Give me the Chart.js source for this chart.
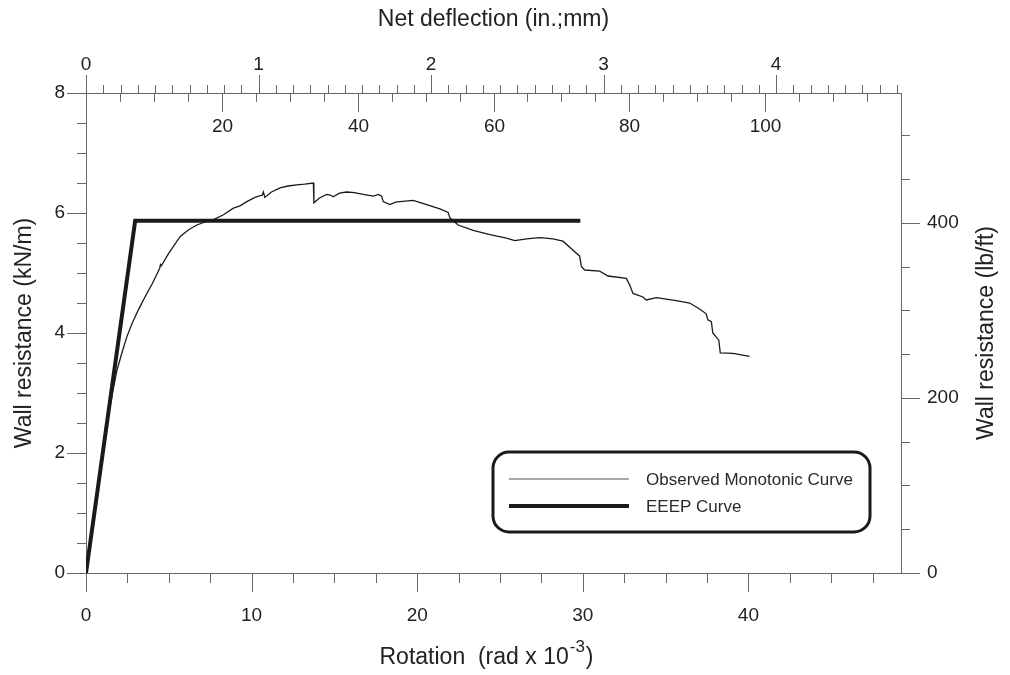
<!DOCTYPE html>
<html>
<head>
<meta charset="utf-8">
<script src="https://cdn.jsdelivr.net/npm/chart.js@4.4.0/dist/chart.umd.min.js"></script>
<style>
  html, body { margin: 0; padding: 0; background: #fff; }
  canvas { display: block; }
</style>
</head>
<body>
<canvas id="grafico" width="1010" height="675"></canvas>
<script>
// --- DADOS ---
// curva monotônica observada: rotação (rad x 10^-3) e resistência (kN/m)
const rotacaoObservada = [
  0, 0.3, 0.6, 0.9, 1.3, 1.6, 1.87, 2.2, 2.47, 2.8, 3.17, 3.6, 4.0, 4.45, 4.5, 4.55,
  5.0, 5.69, 6.2, 6.69, 7.2, 7.7, 8.3, 8.9, 9.3, 9.71, 10.2, 10.65, 10.71, 10.8, 11.2,
  11.72, 12.2, 12.73, 13.2, 13.73, 13.76, 14.1, 14.54, 14.75, 14.93, 15.3, 15.74, 16.2,
  16.74, 17.35, 17.65, 17.85, 17.95, 18.35, 18.7, 18.96, 19.76, 20.57, 21.37, 21.87,
  21.97, 22.47, 23.38, 24.39, 25.39, 25.89, 26.6, 27.4, 28.2, 28.8, 29.41, 29.81, 29.91,
  30.11, 31.02, 31.52, 32.63, 32.83, 33.03, 33.63, 33.83, 34.44, 35.64, 36.45, 37.05,
  37.45, 37.55, 37.76, 37.85, 38.21, 38.3, 39.06, 40.07
];
const resistenciaObservada = [
  0, 0.62, 1.2, 1.8, 2.55, 3.0, 3.38, 3.7, 3.94, 4.17, 4.39, 4.62, 4.82, 5.08, 5.14, 5.12,
  5.33, 5.61, 5.72, 5.80, 5.85, 5.89, 5.97, 6.08, 6.12, 6.19, 6.26, 6.30, 6.35, 6.26, 6.35,
  6.42, 6.45, 6.47, 6.48, 6.50, 6.17, 6.25, 6.31, 6.30, 6.27, 6.33, 6.35, 6.34,
  6.31, 6.28, 6.31, 6.28, 6.19, 6.14, 6.18, 6.19, 6.21, 6.14, 6.07, 6.01,
  5.92, 5.80, 5.71, 5.64, 5.58, 5.54, 5.57, 5.59, 5.57, 5.53, 5.38, 5.28, 5.11,
  5.05, 5.03, 4.95, 4.91, 4.80, 4.66, 4.60, 4.55, 4.59, 4.54, 4.50, 4.40,
  4.32, 4.22, 4.19, 4.00, 3.88, 3.67, 3.66, 3.61
];

// curva EEEP (bilinear)
const rotacaoEEEP = [0, 2.97, 29.85];
const resistenciaEEEP = [0, 5.87, 5.87];

// rótulos
const TITULO_TOPO = 'Net deflection (in.;mm)';
const TITULO_ESQ = 'Wall resistance (kN/m)';
const TITULO_DIR = 'Wall resistance (lb/ft)';
const TITULO_BASE = ['Rotation  (rad x 10', '-3', ')'];
const NOMES_SERIES = ['Observed Monotonic Curve', 'EEEP Curve'];

// conversões de unidade
const ALTURA_PAREDE_POL = 96;          // 8 ft
const MM_POR_POL = 25.4;
const KN_M_POR_LB_FT = 0.0145939;
const DEFLEXAO_MAX_MM = 120;
const Y_MAX = 8;
const X_MAX = DEFLEXAO_MAX_MM / MM_POR_POL / ALTURA_PAREDE_POL * 1000;

const corTexto = '#222';
const corEixo = '#666';
const FONTE = "'Liberation Sans', Arial, sans-serif";

const pontos = (xs, ys) => xs.map((x, i) => ({ x: x, y: ys[i] }));

// --- MARCAS DOS EIXOS, RÓTULOS EM MM, TÍTULOS E LEGENDA ---
const pluginDesenho = {
  id: 'desenhoExtra',
  afterDraw(chart) {
    const { ctx, chartArea: a, scales } = chart;
    ctx.save();
    ctx.strokeStyle = corEixo;
    ctx.lineWidth = 1;
    const linha = (x1, y1, x2, y2) => {
      ctx.beginPath(); ctx.moveTo(x1, y1); ctx.lineTo(x2, y2); ctx.stroke();
    };
    const arred = v => Math.round(v) + 0.5;

    // eixo inferior: rotação, a cada 2.5
    for (let v = 0; v <= X_MAX; v += 2.5) {
      const px = arred(scales.x.getPixelForValue(v));
      linha(px, a.bottom, px, a.bottom + (v % 10 === 0 ? 19 : 10));
    }
    // eixo esquerdo: kN/m, a cada 0.5
    for (let v = 0; v <= Y_MAX; v += 0.5) {
      const py = arred(scales.y.getPixelForValue(v));
      linha(a.left, py, a.left - (v % 2 === 0 ? 19 : 9), py);
    }
    // eixo direito: lb/ft, a cada 50
    for (let v = 0; v <= scales.yDir.max; v += 50) {
      const py = arred(scales.yDir.getPixelForValue(v));
      linha(a.right, py, a.right + (v % 200 === 0 ? 19 : 9), py);
    }
    // eixo superior: polegadas (para cima)
    for (let i = 0; i * 0.1 <= scales.xTopo.max + 1e-9; i++) {
      const px = arred(scales.xTopo.getPixelForValue(i * 0.1));
      linha(px, a.top, px, a.top - (i % 10 === 0 ? 18 : 8));
    }
    // eixo superior: mm (para baixo)
    ctx.fillStyle = corTexto;
    ctx.font = '19px ' + FONTE;
    ctx.textAlign = 'center';
    ctx.textBaseline = 'middle';
    for (let mm = 5; mm <= DEFLEXAO_MAX_MM; mm += 5) {
      const px = arred(scales.xTopo.getPixelForValue(mm / MM_POR_POL));
      const maior = mm % 20 === 0;
      linha(px, a.top, px, a.top + (maior ? 19 : 9));
      if (maior && mm < DEFLEXAO_MAX_MM) ctx.fillText(String(mm), px, a.top + 34);
    }

    // título direito (lido de baixo para cima)
    ctx.save();
    ctx.translate(987, (a.top + a.bottom) / 2);
    ctx.rotate(-Math.PI / 2);
    ctx.font = '23px ' + FONTE;
    ctx.fillText(TITULO_DIR, 0, 0);
    ctx.restore();

    // título inferior com expoente
    ctx.font = '23px ' + FONTE;
    const w1 = ctx.measureText(TITULO_BASE[0]).width;
    const w3 = ctx.measureText(TITULO_BASE[2]).width;
    ctx.font = '17px ' + FONTE;
    const w2 = ctx.measureText(TITULO_BASE[1]).width;
    let tx = (a.left + a.right) / 2 - 8 - (w1 + w2 + w3) / 2;
    const ty = 658;
    ctx.textAlign = 'left';
    ctx.font = '23px ' + FONTE;
    ctx.fillText(TITULO_BASE[0], tx, ty);
    ctx.font = '17px ' + FONTE;
    ctx.fillText(TITULO_BASE[1], tx + w1 + 1, ty - 11);
    ctx.font = '23px ' + FONTE;
    ctx.fillText(TITULO_BASE[2], tx + w1 + w2 + 2, ty);

    // legenda em caixa arredondada
    const lx = 493, ly = 452, lw = 377, lh = 80, r = 16;
    ctx.strokeStyle = '#1a1a1a';
    ctx.lineWidth = 3;
    ctx.beginPath();
    ctx.roundRect(lx, ly, lw, lh, r);
    ctx.stroke();
    const linhasLeg = [479, 506];
    chart.data.datasets.forEach((ds, i) => {
      ctx.strokeStyle = i === 0 ? '#555' : ds.borderColor;
      ctx.lineWidth = i === 0 ? 1 : ds.borderWidth;
      linha(509, linhasLeg[i], 629, linhasLeg[i]);
      ctx.fillStyle = '#2a2a2a';
      ctx.font = '17px ' + FONTE;
      ctx.textAlign = 'left';
      ctx.fillText(ds.label, 646, linhasLeg[i] + 1);
    });
    ctx.restore();
  }
};

const eixoBase = {
  type: 'linear',
  grid: { display: true, drawOnChartArea: false, drawTicks: false },
  border: { display: true, color: corEixo, width: 1 },
};
const fonteTick = { family: FONTE, size: 19 };
const fonteTitulo = { family: FONTE, size: 23 };

const ctx = document.getElementById('grafico').getContext('2d');
new Chart(ctx, {
  type: 'line',
  data: {
    datasets: [
      {
        label: NOMES_SERIES[0],
        data: pontos(rotacaoObservada, resistenciaObservada),
        borderColor: '#1a1a1a',
        borderWidth: 1.3,
        pointRadius: 0,
        tension: 0,
        xAxisID: 'x', yAxisID: 'y'
      },
      {
        label: NOMES_SERIES[1],
        data: pontos(rotacaoEEEP, resistenciaEEEP),
        borderColor: '#1a1a1a',
        borderWidth: 4,
        pointRadius: 0,
        tension: 0,
        borderJoinStyle: 'miter',
        xAxisID: 'x', yAxisID: 'y'
      }
    ]
  },
  options: {
    responsive: false,
    animation: false,
    devicePixelRatio: 1,
    layout: { padding: 0 },
    plugins: { legend: { display: false }, tooltip: { enabled: false } },
    scales: {
      x: {
        ...eixoBase, position: 'bottom', min: 0, max: X_MAX,
        ticks: { stepSize: 10, includeBounds: false, color: corTexto, font: fonteTick, padding: 31, maxRotation: 0 },
        afterFit(s) { s.height = 102; }
      },
      xTopo: {
        ...eixoBase, position: 'top', min: 0, max: X_MAX * ALTURA_PAREDE_POL / 1000,
        ticks: { stepSize: 1, includeBounds: false, color: corTexto, font: fonteTick, padding: 17, maxRotation: 0 },
        title: { display: true, text: TITULO_TOPO, color: corTexto, font: fonteTitulo, padding: { top: 6, bottom: 0 } },
        afterFit(s) { s.height = 93; }
      },
      y: {
        ...eixoBase, position: 'left', min: 0, max: Y_MAX,
        ticks: { stepSize: 2, includeBounds: false, color: corTexto, font: fonteTick, padding: 21 },
        title: { display: true, text: TITULO_ESQ, color: corTexto, font: fonteTitulo, padding: { top: 11, bottom: 0 } },
        afterFit(s) { s.width = 86; }
      },
      yDir: {
        ...eixoBase, position: 'right', min: 0, max: Y_MAX / KN_M_POR_LB_FT,
        ticks: { stepSize: 200, includeBounds: false, color: corTexto, font: fonteTick, padding: 26 },
        afterFit(s) { s.width = 109; }
      }
    }
  },
  plugins: [pluginDesenho]
});
</script>
</body>
</html>
